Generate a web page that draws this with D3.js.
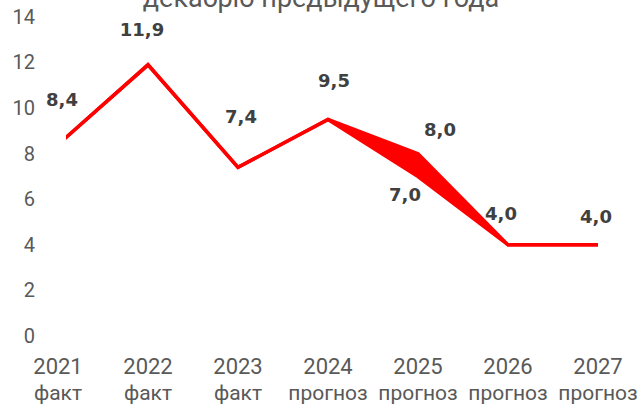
<!DOCTYPE html>
<html>
<head>
<meta charset="utf-8">
<script src="https://cdn.jsdelivr.net/npm/d3@7"></script>
<style>
  html, body { margin: 0; padding: 0; background: #fff; }
  svg { display: block; }
</style>
</head>
<body>
<svg id="chart"></svg>
<script>
// Data
const years = ["2021", "2022", "2023", "2024", "2025", "2026", "2027"];
const kinds = ["факт", "факт", "факт", "прогноз", "прогноз", "прогноз", "прогноз"];
const upperValues = [8.4, 11.9, 7.4, 9.5, 8.0, 4.0, 4.0];
const lowerValues = [8.4, 11.9, 7.4, 9.5, 7.0, 4.0, 4.0];
const yTicks = [0, 2, 4, 6, 8, 10, 12, 14];
const titleText = "декабрю предыдущего года";

// Manual label placement (Excel style), offset from the point in px
const upperLabelOffsets = [[4, -45], [-6, -35], [3, -51], [6, -39], [22, -24], [-7, -31], [-2, -28]];
const lowerLabelOffset = [-13, 18];

const width = 639, height = 404;
const svg = d3.select("#chart")
  .attr("width", width)
  .attr("height", height)
  .style("font-family", "Roboto, sans-serif");

const x = d3.scalePoint().domain(years).range([58, 598]);
const y = d3.scaleLinear().domain([0, 14]).range([336, 17]);

const red = "#ff0000";
const gray = "#595959";
const labelColor = "#404040";

// Title (cut off at the top edge, as in the original)
svg.append("text")
  .attr("x", 321)
  .attr("y", 7)
  .attr("text-anchor", "middle")
  .attr("fill", gray)
  .attr("font-size", 27)
  .text(titleText);

// Y axis labels only
const yAxis = d3.axisLeft(y).tickValues(yTicks).tickSize(0).tickPadding(0).tickFormat(d3.format("d"));
const yg = svg.append("g")
  .attr("transform", "translate(35,0)")
  .call(yAxis);
yg.select(".domain").remove();
yg.selectAll("text")
  .attr("fill", gray)
  .attr("font-size", 20)
  .attr("font-family", "Roboto, sans-serif");

// X axis labels: year and fact/forecast
const xg = svg.append("g");
xg.selectAll("text.year")
  .data(years)
  .enter().append("text")
  .attr("class", "year")
  .attr("x", d => x(d))
  .attr("y", 374)
  .attr("text-anchor", "middle")
  .attr("fill", gray)
  .attr("font-size", 22)
  .text(d => d);
xg.selectAll("text.kind")
  .data(kinds)
  .enter().append("text")
  .attr("class", "kind")
  .attr("x", (d, i) => x(years[i]))
  .attr("y", 400)
  .attr("text-anchor", "middle")
  .attr("fill", gray)
  .attr("font-size", 21)
  .text(d => d);

// Clip: the line is cut on the left, as in the original
svg.append("defs").append("clipPath")
  .attr("id", "plotClip")
  .append("rect")
  .attr("x", 66).attr("y", 0)
  .attr("width", width - 66).attr("height", height);

const plot = svg.append("g").attr("clip-path", "url(#plotClip)");

const rows = years.map((yr, i) => ({ year: yr, hi: upperValues[i], lo: lowerValues[i] }));

// Forecast range band
const band = d3.area()
  .x(d => x(d.year))
  .y0(d => y(d.lo))
  .y1(d => y(d.hi));
plot.append("path")
  .datum(rows)
  .attr("fill", red)
  .attr("d", band);

const lineHi = d3.line().x(d => x(d.year)).y(d => y(d.hi));
const lineLo = d3.line().x(d => x(d.year)).y(d => y(d.lo));
plot.append("path")
  .datum(rows)
  .attr("fill", "none")
  .attr("stroke", red)
  .attr("stroke-width", 3.5)
  .attr("d", lineHi);
plot.append("path")
  .datum(rows)
  .attr("fill", "none")
  .attr("stroke", red)
  .attr("stroke-width", 3.5)
  .attr("d", lineLo);

// Data labels
const fmt = v => d3.format(".1f")(v).replace(".", ",");
const labels = svg.append("g")
  .attr("font-family", "'DejaVu Sans', sans-serif")
  .attr("font-weight", "bold")
  .attr("font-size", 18)
  .attr("fill", labelColor)
  .attr("text-anchor", "middle");

labels.selectAll("text.hi")
  .data(rows)
  .enter().append("text")
  .attr("class", "hi")
  .attr("x", (d, i) => x(d.year) + upperLabelOffsets[i][0])
  .attr("y", (d, i) => y(d.hi) + upperLabelOffsets[i][1])
  .attr("dy", "0.35em")
  .text(d => fmt(d.hi));

labels.selectAll("text.lo")
  .data(rows.filter(d => d.lo !== d.hi))
  .enter().append("text")
  .attr("class", "lo")
  .attr("x", d => x(d.year) + lowerLabelOffset[0])
  .attr("y", d => y(d.lo) + lowerLabelOffset[1])
  .attr("dy", "0.35em")
  .text(d => fmt(d.lo));
</script>
</body>
</html>
